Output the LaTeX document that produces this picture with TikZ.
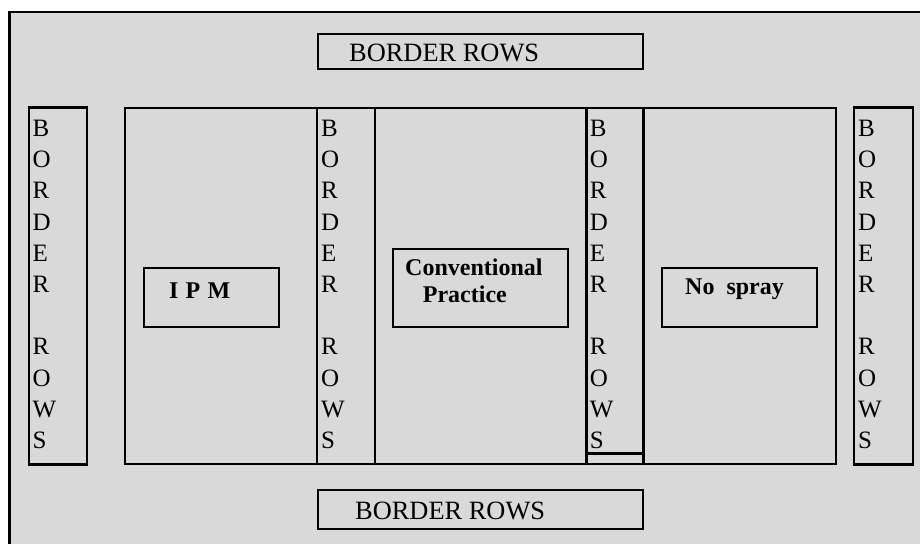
\documentclass[tikz,border=0pt]{standalone}
\usepackage{fontspec}
\setmainfont{Liberation Serif}
\definecolor{bggray}{HTML}{D9D9D9}
\tikzset{
  box/.style={draw=black,line width=2.3bp},
  vlet/.style={anchor=north west,inner sep=0pt,align=left,
    font=\fontsize{25bp}{31.2bp}\selectfont},
  htxt/.style={anchor=base west,inner sep=0pt,font=\fontsize{26.4bp}{30bp}\selectfont},
  blbl/.style={anchor=base west,inner sep=0pt,font=\fontsize{24bp}{28bp}\selectfont\bfseries}
}
\newcommand{\vborder}{B\\O\\R\\D\\E\\R\\\mbox{}\\R\\O\\W\\S}
\begin{document}
\begin{tikzpicture}[x=1bp,y=-1bp]
\useasboundingbox (0,0) rectangle (920,544);
\clip (0,0) rectangle (920,544);
% background and frame
\fill[bggray] (9.5,12) rectangle (925,550);
\draw[line width=2.3bp] (9.5,550) -- (9.5,12) -- (925,12);
% top and bottom border row boxes
\draw[box] (318,34) rectangle (643,69);
\draw[box] (318,490) rectangle (643,529);
\node[htxt] (toptxt) at (349,61.5) {BORDER ROWS};
\node[htxt] (bottxt) at (355,519) {BORDER ROWS};
% side strips
\draw[box] (28.7,107.5) rectangle (87.3,464.5);
\draw[box] (854.3,107.5) rectangle (913.3,464.5);
% main field
\draw[box] (125,108) rectangle (835.7,464);
\draw[box] (317,108) rectangle (375,464);
\draw[box] (586.5,108) rectangle (643.5,464);
\draw[box] (586.5,453.5) -- (643.5,453.5);
% vertical labels
\node[vlet] (v1) at (32.5,120) {\vborder};
\node[vlet] (v2) at (320.8,120) {\vborder};
\node[vlet] (v3) at (589.6,120) {\vborder};
\node[vlet] (v4) at (857.8,120) {\vborder};
% treatment boxes
\draw[box] (143.7,267.7) rectangle (279.3,326.7);
\draw[box] (393.3,249) rectangle (567.7,326.7);
\draw[box] (662.3,267.7) rectangle (817.3,326.7);
\node[blbl] (ipm) at (169,298.3) {I\hspace{0.3em}P\hspace{0.3em}M};
\node[blbl] (conv) at (405,276) {Conventional};
\node[blbl] (prac) at (422.7,303) {Practice};
\node[blbl] (nospray) at (685,295) {No\hspace{0.5em}spray};
\end{tikzpicture}
\end{document}
